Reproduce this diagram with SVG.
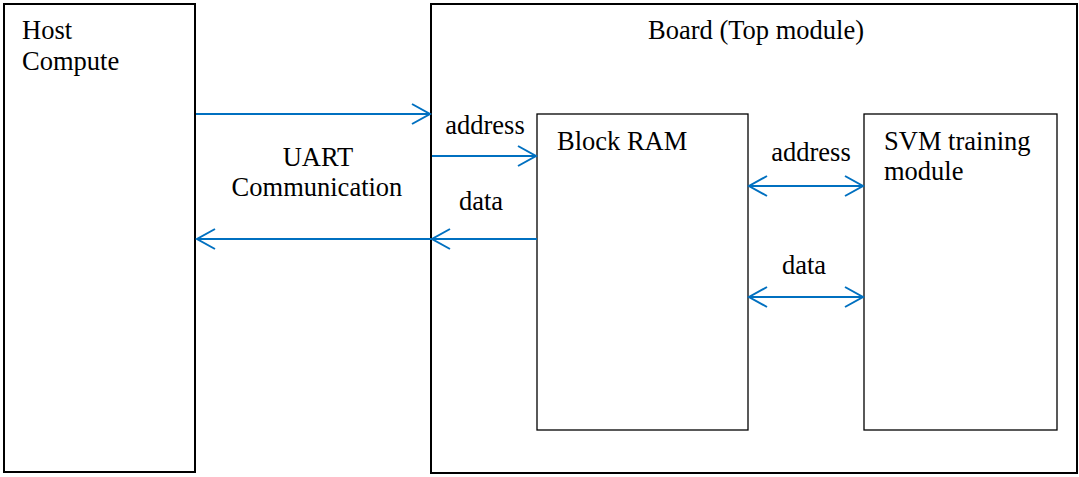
<svg xmlns="http://www.w3.org/2000/svg" width="1079" height="477" viewBox="0 0 1079 477">
  <defs>
    <style>
      .box { fill: #ffffff; stroke: #000000; stroke-width: 2; }
      .inner { fill: #ffffff; stroke: #000000; stroke-width: 1.3; }
      .lbl { font-family: "Liberation Serif", "Times New Roman", serif; font-size: 26.5px; fill: #000000; }
      .wire { stroke: #0070C0; stroke-width: 2; fill: none; }
    </style>
    <marker id="head" viewBox="0 0 22 24" refX="19" refY="12" markerWidth="22" markerHeight="24" markerUnits="userSpaceOnUse" orient="auto-start-reverse">
      <path d="M1,2 L19,12 L1,22" fill="none" stroke="#0070C0" stroke-width="2"/>
    </marker>
  </defs>

  <g id="host">
    <rect class="box" x="4" y="4" width="191" height="468"/>
    <text class="lbl" x="22" y="39">Host</text>
    <text class="lbl" x="22" y="70">Compute</text>
  </g>

  <g id="board">
    <rect class="box" x="431" y="4" width="646" height="469"/>
    <text class="lbl" x="756" y="39" text-anchor="middle">Board (Top module)</text>
  </g>

  <g id="block-ram">
    <rect class="inner" x="537" y="114" width="211" height="316"/>
    <text class="lbl" x="557" y="150">Block RAM</text>
  </g>

  <g id="svm">
    <rect class="inner" x="864" y="114" width="193" height="316"/>
    <text class="lbl" x="884" y="150">SVM training</text>
    <text class="lbl" x="884" y="180">module</text>
  </g>

  <g id="connectors">
    <line class="wire" x1="196" y1="114" x2="430" y2="114" marker-end="url(#head)"/>
    <line class="wire" x1="432" y1="156" x2="536" y2="156" marker-end="url(#head)"/>
    <line class="wire" x1="537" y1="239" x2="432" y2="239" marker-end="url(#head)"/>
    <line class="wire" x1="431" y1="239" x2="197" y2="239" marker-end="url(#head)"/>
    <line class="wire" x1="749" y1="186" x2="863" y2="186" marker-start="url(#head)" marker-end="url(#head)"/>
    <line class="wire" x1="749" y1="297" x2="863" y2="297" marker-start="url(#head)" marker-end="url(#head)"/>
  </g>

  <g id="labels">
    <text class="lbl" x="318" y="166" text-anchor="middle">UART</text>
    <text class="lbl" x="317" y="196" text-anchor="middle">Communication</text>
    <text class="lbl" x="485" y="134" text-anchor="middle">address</text>
    <text class="lbl" x="481" y="210" text-anchor="middle">data</text>
    <text class="lbl" x="811" y="161" text-anchor="middle">address</text>
    <text class="lbl" x="804" y="274" text-anchor="middle">data</text>
  </g>
</svg>
